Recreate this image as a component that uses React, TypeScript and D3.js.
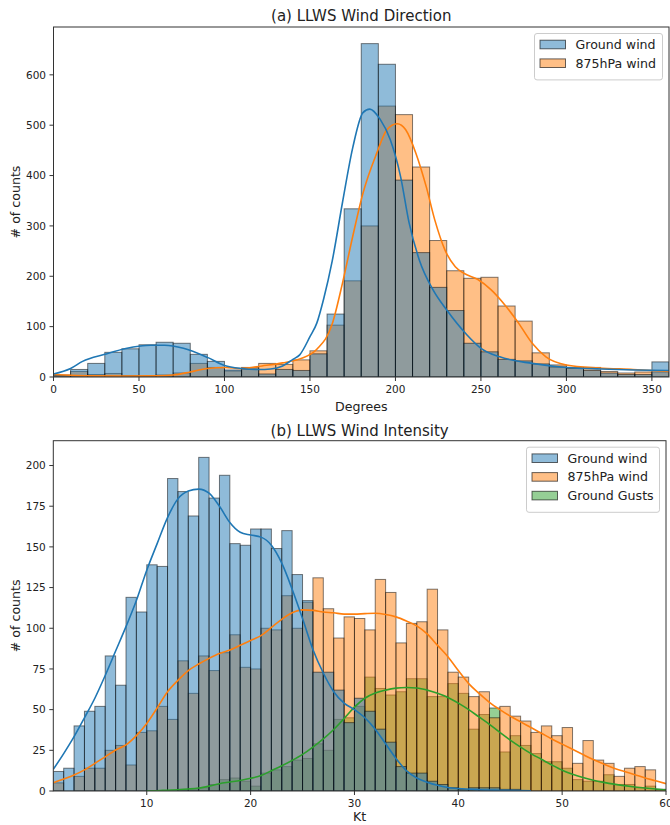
import React from "react";
import * as d3 from "d3";

// ---------------- Data ----------------
// (a) wind direction histogram, 10-degree bins
const dirBinStarts = [0, 10, 20, 30, 40, 50, 60, 70, 80, 90, 100, 110, 120, 130, 140, 150, 160, 170, 180, 190, 200, 210, 220, 230, 240, 250, 260, 270, 280, 290, 300, 310, 320, 330, 340, 350];
const dirGroundCounts = [4, 15, 27, 49, 56, 64, 69, 67, 45, 31, 14, 16, 6, 15, 13, 46, 125, 334, 662, 621, 391, 247, 178, 132, 67, 50, 35, 32, 26, 20, 17, 13, 8, 5, 5, 30];
const dir875Counts = [3, 11, 5, 7, 3, 2, 4, 8, 27, 19, 12, 19, 27, 25, 34, 52, 103, 191, 300, 538, 521, 417, 271, 211, 196, 198, 141, 111, 48, 24, 19, 19, 11, 8, 10, 10];

const dirGroundKdeX = [0, 10, 17, 30, 43, 50, 57, 65, 76, 90, 100, 110, 120, 127, 134, 140, 144, 150, 154, 158, 163, 169, 175, 181, 185, 191, 197, 203, 208, 214, 222, 230, 242, 250, 261, 280, 300, 320, 340, 360];
const dirGroundKdeY = [6, 17, 31, 45, 57, 61, 63, 63, 57, 39, 23, 17, 15, 16, 22, 35, 44, 80, 107, 155, 230, 346, 455, 525, 532, 512, 471, 398, 306, 232, 173, 133, 83, 57, 40, 27, 19, 16, 14, 13];
const dir875KdeX = [0, 10, 20, 40, 60, 70, 80, 90, 100, 110, 122, 134, 144, 154, 163, 169, 175, 181, 189, 195, 201, 206, 212, 218, 223, 229, 235, 240, 248, 256, 264, 272, 280, 288, 300, 319, 339, 360];
const dir875KdeY = [5, 3.5, 2.5, 2, 2.5, 4, 10, 17, 19, 17, 22, 28, 36, 55, 105, 186, 279, 365, 444, 491, 503, 491, 444, 378, 312, 252, 219, 206, 194, 173, 143, 107, 67, 40, 24, 18, 15, 11];

const dirXTicks = [0, 50, 100, 150, 200, 250, 300, 350];
const dirYTicks = [0, 100, 200, 300, 400, 500, 600];

// (b) wind intensity histogram, 1-kt bins
const ktBinStarts = [1, 2, 3, 4, 5, 6, 7, 8, 9, 10, 11, 12, 13, 14, 15, 16, 17, 18, 19, 20, 21, 22, 23, 24, 25, 26, 27, 28, 29, 30, 31, 32, 33, 34, 35, 36, 37, 38, 39, 40, 41, 42, 43, 44, 45, 46, 47, 48, 49, 50, 51, 52, 53, 54, 55, 56, 57, 58, 59];
const ktGroundCounts = [12, 14, 40, 49, 52, 83, 65, 119, 110, 139, 138, 192, 184, 169, 205, 180, 194, 152, 151, 161, 161, 149, 160, 133, 117, 73, 73, 62, 42, 57, 49, 38, 30, 15, 11, 11, 6, 4, 2, 1, 2, 2, 2, 1, 1, 0, 0, 0, 0, 0, 0, 0, 0, 0, 0, 0, 0, 0, 0];
const kt875Counts = [5, 0, 9, 14, 14, 25, 28, 16, 36, 37, 52, 44, 80, 60, 83, 74, 85, 96, 76, 75, 100, 99, 120, 100, 116, 131, 112, 94, 107, 106, 99, 130, 122, 91, 103, 104, 124, 99, 73, 70, 58, 61, 45, 52, 46, 43, 36, 40, 34, 39, 17, 31, 19, 17, 9, 14, 15, 13, 1];
const ktGustCounts = [0, 0, 0, 0, 0, 0, 0, 0, 0, 0, 0, 0, 1, 1, 2, 4, 7, 8, 6, 3, 11, 13, 15, 19, 20, 29, 25, 44, 45, 52, 70, 63, 59, 61, 69, 69, 58, 58, 66, 60, 38, 47, 51, 24, 34, 28, 23, 18, 18, 14, 7, 6, 6, 10, 4, 4, 2, 3, 1];

const ktGroundKdeX = [1, 2, 3, 4, 5, 6, 7, 8, 9, 10, 11, 12, 13, 14, 15, 16, 17, 18, 19, 20, 21, 22, 23, 24, 25, 26, 27, 28, 29, 30, 31, 32, 33, 34, 35, 36, 37, 38, 39, 40, 42, 44, 47];
const ktGroundKdeY = [13.3, 23, 33.4, 45, 57, 71, 86, 101, 117, 135.7, 152, 168, 179.5, 184.3, 185.5, 183, 175, 165, 159, 157.3, 156, 151, 140, 124, 106, 87, 72.5, 61, 54, 50, 45, 38, 29, 20, 12.5, 8, 5.4, 3.5, 2.2, 1.5, 0.8, 0.5, 0.2];
const kt875KdeX = [1, 2, 3, 4, 5, 6, 7, 8, 9, 10, 11, 12, 13, 14, 15, 16, 17, 18, 19, 20, 21, 22, 23, 24, 25, 26, 27, 28, 29, 30, 31, 32, 33, 34, 35, 36, 37, 38, 39, 40, 41, 42, 43, 44, 45, 46, 47, 48, 49, 50, 51, 52, 53, 54, 55, 56, 57, 58, 59, 60];
const kt875KdeY = [5, 7.3, 9.8, 13, 17, 21, 25.2, 28.3, 34, 41.5, 51, 61, 68, 74, 78, 81.5, 84.5, 86.6, 89.5, 92.5, 95.5, 100.5, 105.5, 109.5, 111.3, 111, 110, 109.5, 108.7, 108.7, 109, 109.2, 108.5, 107, 104.5, 101.5, 96.5, 89.5, 82.5, 74, 66, 60, 54.5, 50, 46, 42.5, 39, 35.5, 32, 28.8, 25.6, 22.4, 19.3, 16.6, 14, 12, 10, 8, 6.3, 4.5];
const ktGustKdeX = [10, 11, 12, 13, 14, 15, 16, 17, 18, 19, 20, 21, 22, 23, 24, 25, 26, 27, 28, 29, 30, 31, 32, 33, 34, 35, 36, 37, 38, 39, 40, 41, 42, 43, 44, 45, 46, 47, 48, 49, 50, 51, 52, 53, 54, 55, 56, 57, 58, 59, 60];
const ktGustKdeY = [0, 0.2, 0.5, 0.8, 1.2, 1.8, 3, 4.5, 5.5, 6.5, 7.8, 9.5, 12.5, 15.5, 18.8, 22.5, 27, 32, 37.8, 44.5, 51.5, 57, 60.2, 62, 63.2, 63.6, 63.3, 62, 60, 57.5, 54, 50, 45.5, 41, 36, 31.3, 27, 23, 19.5, 16, 12.8, 10.3, 8.3, 6.6, 5.3, 4.2, 3.3, 2.5, 1.8, 1.2, 0.6];

const ktXTicks = [10, 20, 30, 40, 50, 60];
const ktYTicks = [0, 25, 50, 75, 100, 125, 150, 175, 200];

// ---------------- Styling ----------------
const FONT = "'DejaVu Sans', sans-serif";
const BLUE = "#1f77b4";
const ORANGE = "#ff7f0e";
const GREEN = "#2ca02c";

type Series = {
  name: string;
  color: string;
  counts: number[];
  kdeX: number[];
  kdeY: number[];
};

type PanelProps = {
  id: string;
  title: string;
  xLabel: string;
  binStarts: number[];
  binWidth: number;
  series: Series[];
  xDomain: [number, number];
  yDomain: [number, number];
  box: { left: number; right: number; top: number; bottom: number };
  xTicks: number[];
  yTicks: number[];
  legendWidth: number;
  titleY: number;
  xLabelY: number;
};

function Panel(p: PanelProps) {
  const { box } = p;
  const x = d3.scaleLinear().domain(p.xDomain).range([box.left, box.right]);
  const y = d3.scaleLinear().domain(p.yDomain).range([box.bottom, box.top]);
  const line = d3
    .line<[number, number]>()
    .x((d) => x(d[0]))
    .y((d) => y(d[1]))
    .curve(d3.curveMonotoneX);

  const drawOrder = [...p.series].reverse();
  const legendRowH = 18.7;
  const legendH = 8 + p.series.length * legendRowH + 1;
  const legendRight = box.right - 6.5;
  const legendLeft = legendRight - p.legendWidth;
  const legendTop = box.top + 6.5;

  return (
    <g>
      <defs>
        <clipPath id={`clip-${p.id}`}>
          <rect x={box.left} y={box.top} width={box.right - box.left} height={box.bottom - box.top} />
        </clipPath>
      </defs>
      <g clipPath={`url(#clip-${p.id})`}>
        {drawOrder.map((s) =>
          s.counts.map((c, i) =>
            c > 0 ? (
              <rect
                key={`${s.name}-${i}`}
                x={x(p.binStarts[i])}
                width={x(p.binStarts[i] + p.binWidth) - x(p.binStarts[i])}
                y={y(c)}
                height={y(0) - y(c)}
                fill={s.color}
                fillOpacity={0.5}
                stroke="#000"
                strokeOpacity={0.5}
                strokeWidth={1}
              />
            ) : null
          )
        )}
        {drawOrder.map((s) => (
          <path
            key={`kde-${s.name}`}
            d={line(s.kdeX.map((v, i) => [v, s.kdeY[i]] as [number, number])) || ""}
            fill="none"
            stroke={s.color}
            strokeWidth={1.6}
          />
        ))}
      </g>
      {/* spines */}
      <rect
        x={box.left}
        y={box.top}
        width={box.right - box.left}
        height={box.bottom - box.top}
        fill="none"
        stroke="#333"
        strokeWidth={1}
      />
      {/* x ticks */}
      {p.xTicks.map((t) => (
        <g key={`xt-${t}`}>
          <line x1={x(t)} x2={x(t)} y1={box.bottom} y2={box.bottom + 4} stroke="#333" strokeWidth={1} />
          <text x={x(t)} y={box.bottom + 16} textAnchor="middle" fontSize={10.5} fontFamily={FONT} fill="#222">
            {t}
          </text>
        </g>
      ))}
      {/* y ticks */}
      {p.yTicks.map((t) => (
        <g key={`yt-${t}`}>
          <line x1={box.left - 4} x2={box.left} y1={y(t)} y2={y(t)} stroke="#333" strokeWidth={1} />
          <text x={box.left - 7.5} y={y(t) + 3.8} textAnchor="end" fontSize={10.5} fontFamily={FONT} fill="#222">
            {t}
          </text>
        </g>
      ))}
      {/* labels */}
      <text
        x={(box.left + box.right) / 2}
        y={p.titleY}
        textAnchor="middle"
        fontSize={15}
        fontFamily={FONT}
        fill="#222"
      >
        {p.title}
      </text>
      <text
        x={(box.left + box.right) / 2}
        y={p.xLabelY}
        textAnchor="middle"
        fontSize={12.6}
        fontFamily={FONT}
        fill="#222"
      >
        {p.xLabel}
      </text>
      <text
        transform={`translate(${19.5},${(box.top + box.bottom) / 2}) rotate(-90)`}
        textAnchor="middle"
        fontSize={12.6}
        fontFamily={FONT}
        fill="#222"
      >
        # of counts
      </text>
      {/* legend */}
      <rect
        x={legendLeft}
        y={legendTop}
        width={p.legendWidth}
        height={legendH}
        rx={2.5}
        fill="#fff"
        fillOpacity={0.8}
        stroke="#ccc"
        strokeWidth={1}
      />
      {p.series.map((s, i) => {
        const cy = legendTop + 11 + i * legendRowH;
        return (
          <g key={`leg-${s.name}`}>
            <rect
              x={legendLeft + 5.5}
              y={cy - 4.3}
              width={25.5}
              height={8.6}
              fill={s.color}
              fillOpacity={0.5}
              stroke="#000"
              strokeOpacity={0.6}
              strokeWidth={1}
            />
            <text x={legendLeft + 41} y={cy + 4.5} fontSize={12.6} fontFamily={FONT} fill="#222">
              {s.name}
            </text>
          </g>
        );
      })}
    </g>
  );
}

export default function App() {
  const dirSeries: Series[] = [
    { name: "Ground wind", color: BLUE, counts: dirGroundCounts, kdeX: dirGroundKdeX, kdeY: dirGroundKdeY },
    { name: "875hPa wind", color: ORANGE, counts: dir875Counts, kdeX: dir875KdeX, kdeY: dir875KdeY },
  ];
  const ktSeries: Series[] = [
    { name: "Ground wind", color: BLUE, counts: ktGroundCounts, kdeX: ktGroundKdeX, kdeY: ktGroundKdeY },
    { name: "875hPa wind", color: ORANGE, counts: kt875Counts, kdeX: kt875KdeX, kdeY: kt875KdeY },
    { name: "Ground Gusts", color: GREEN, counts: ktGustCounts, kdeX: ktGustKdeX, kdeY: ktGustKdeY },
  ];
  return (
    <svg
      width={670}
      height={825}
      viewBox="0 0 670 825"
      style={{ position: "absolute", left: 0, top: 0, background: "#fff" }}
    >
      <rect x={0} y={0} width={670} height={825} fill="#fff" />
      <Panel
        id="dir"
        title="(a) LLWS Wind Direction"
        xLabel="Degrees"
        binStarts={dirBinStarts}
        binWidth={10}
        series={dirSeries}
        xDomain={[0, 360]}
        yDomain={[0, 695]}
        box={{ left: 53.5, right: 669, top: 27, bottom: 377 }}
        xTicks={dirXTicks}
        yTicks={dirYTicks}
        legendWidth={128}
        titleY={21}
        xLabelY={411}
      />
      <Panel
        id="kt"
        title="(b) LLWS Wind Intensity"
        xLabel="Kt"
        binStarts={ktBinStarts}
        binWidth={1}
        series={ktSeries}
        xDomain={[1, 60]}
        yDomain={[0, 215.25]}
        box={{ left: 53.3, right: 666, top: 440.7, bottom: 791 }}
        xTicks={ktXTicks}
        yTicks={ktYTicks}
        legendWidth={133}
        titleY={436}
        xLabelY={821}
      />
    </svg>
  );
}
